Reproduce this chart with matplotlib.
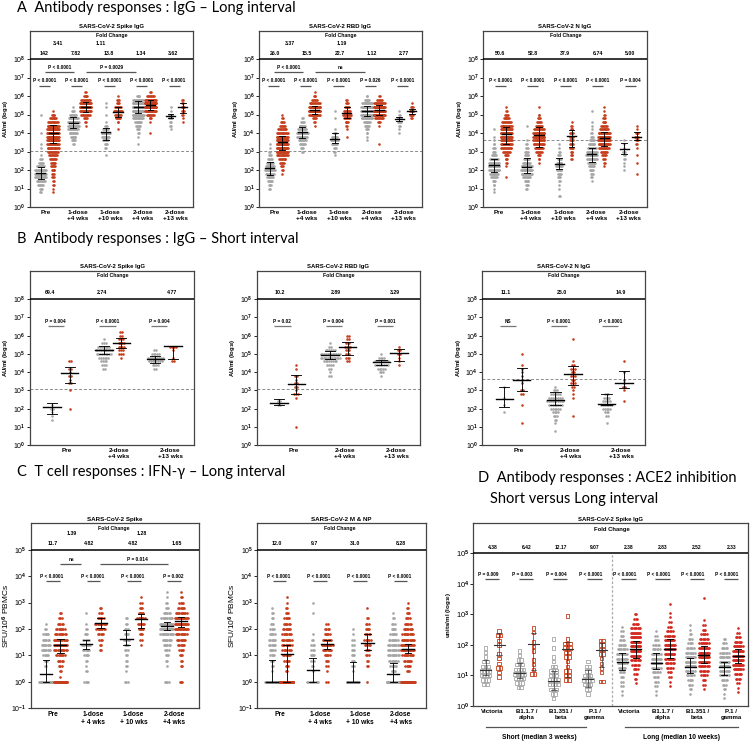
import matplotlib
matplotlib.use("Agg")
import matplotlib.pyplot as plt

plt.rcParams['font.family'] = ['Liberation Sans', 'DejaVu Sans']
plt.rcParams['mathtext.fontset'] = 'custom'
plt.rcParams['mathtext.rm'] = 'Liberation Sans'
plt.rcParams['mathtext.bf'] = 'Liberation Sans:bold'
plt.rcParams['mathtext.default'] = 'bf'

GRAY = '#a5a5a5'
RED = '#c53d1b'
RED_D = '#d2281e'

# ---------------- data (log10 values) ----------------
# each group: first row value, counts per row (row step per panel), median, IQR
# order: gray, red for each time point

# A  IgG long interval (row step 0.2)
A_LABELS = ['Pre', '1-dose\n+4 wks', '1-dose\n+10 wks', '2-dose\n+4 wks', '2-dose\n+13 wks']

A_SPIKE_LO = [0.8, 0.8, 3.4, 4.4, 2.8, 4.2, 3.4, 4.0, 4.2, 4.6]
A_SPIKE_COUNTS = [
    [2, 3, 6, 10, 14, 16, 14, 9, 5, 3, 1, 0, 1, 1, 0, 0, 1, 0, 0, 0, 0, 1],
    [1, 1, 2, 2, 3, 3, 4, 5, 6, 7, 9, 12, 15, 20, 24, 26, 26, 22, 18, 12, 8, 4, 1],
    [2, 4, 6, 9, 12, 14, 14, 11, 7, 3, 1],
    [1, 2, 4, 10, 18, 22, 18, 10, 5, 2],
    [1, 0, 2, 3, 6, 9, 10, 7, 3, 1, 0, 1, 0, 1, 1],
    [1, 0, 2, 5, 8, 9, 7, 4, 3, 1],
    [1, 0, 1, 2, 3, 5, 8, 12, 18, 22, 24, 20, 12, 4],
    [1, 0, 0, 1, 3, 8, 18, 28, 28, 18, 8, 2],
    [1, 2, 2, 5, 4, 1, 1],
    [1, 1, 2, 3, 3, 2, 2],
]
A_SPIKE_MED = [1.86, 3.98, 4.56, 5.39, 4.05, 5.15, 5.39, 5.51, 4.92, 5.39]
A_SPIKE_Q1 = [1.5, 3.48, 4.25, 5.15, 3.6, 4.88, 5.1, 5.24, 4.8, 5.1]
A_SPIKE_Q3 = [2.18, 4.43, 4.88, 5.69, 4.25, 5.39, 5.73, 5.78, 5.05, 5.6]
A_SPIKE_FOLD = ['142', '7.82', '13.8', '1.34', '3.62']
A_SPIKE_FOLD_BETWEEN = ['3.41', '1.11']
A_SPIKE_P = ['P < 0.0001'] * 5
A_SPIKE_P_BETWEEN = ['P < 0.0001', 'P = 0.0029']

A_RBD_LO = [1.0, 1.8, 3.0, 4.4, 2.8, 3.8, 3.6, 3.4, 4.0, 4.8]
A_RBD_COUNTS = [
    [2, 3, 5, 8, 10, 12, 10, 7, 5, 3, 2, 1, 1],
    [1, 2, 3, 5, 8, 14, 20, 24, 26, 24, 20, 14, 10, 6, 4, 2, 1],
    [2, 3, 6, 9, 12, 14, 10, 7, 4, 2],
    [1, 2, 4, 14, 26, 22, 12, 6, 3, 1],
    [1, 2, 3, 6, 9, 6, 3, 1, 0, 0, 1, 0, 1],
    [1, 0, 1, 2, 4, 7, 9, 7, 5, 3, 2],
    [1, 1, 2, 3, 5, 8, 14, 20, 22, 18, 12, 6, 2],
    [1, 0, 0, 0, 0, 1, 3, 10, 22, 30, 25, 14, 6, 2],
    [1, 1, 2, 4, 5, 2, 1],
    [2, 4, 5, 3, 1],
]
A_RBD_MED = [2.09, 3.53, 4.04, 5.24, 3.69, 5.06, 5.19, 5.24, 4.74, 5.19]
A_RBD_Q1 = [1.73, 3.08, 3.71, 5.03, 3.48, 4.79, 4.92, 4.95, 4.65, 5.05]
A_RBD_Q3 = [2.45, 3.86, 4.34, 5.46, 3.98, 5.42, 5.46, 5.5, 4.85, 5.3]
A_RBD_FOLD = ['26.0', '15.5', '22.7', '1.12', '2.77']
A_RBD_FOLD_BETWEEN = ['3.37', '1.19']
A_RBD_P = ['P < 0.0001', 'P < 0.0001', 'P < 0.0001', 'P = 0.026', 'P < 0.0001']
A_RBD_P_BETWEEN = ['P < 0.0001', 'ns']

A_N_LO = [0.8, 1.6, 1.0, 2.4, 0.6, 2.6, 1.4, 2.2, 2.0, 1.8]
A_N_COUNTS = [
    [1, 1, 2, 4, 7, 10, 13, 14, 12, 9, 6, 4, 3, 2, 1, 1, 0, 1],
    [1, 0, 0, 1, 2, 3, 5, 8, 12, 16, 18, 20, 20, 18, 14, 10, 7, 4, 2, 1],
    [2, 3, 5, 8, 12, 14, 12, 9, 7, 5, 4, 3, 2, 1, 0, 0, 0, 1],
    [1, 2, 4, 7, 10, 13, 15, 16, 15, 12, 8, 5, 3, 2, 0, 1],
    [2, 0, 1, 1, 2, 3, 4, 6, 7, 6, 4, 3, 2, 1, 1],
    [2, 3, 3, 4, 4, 5, 5, 4, 3, 2, 1],
    [1, 2, 3, 4, 6, 9, 12, 13, 12, 10, 7, 5, 3, 2, 1, 1, 1, 0, 0, 1],
    [1, 2, 3, 5, 8, 12, 18, 24, 22, 16, 10, 7, 4, 3, 2, 1, 1],
    [1, 1, 1, 2, 2, 3, 1, 1, 1],
    [1, 0, 0, 1, 0, 1, 0, 1, 2, 3, 4, 3, 1, 1],
]
A_N_MED = [2.27, 3.93, 2.14, 3.89, 2.32, 3.86, 2.85, 3.71, 3.12, 3.77]
A_N_Q1 = [1.91, 3.41, 1.86, 3.26, 2.04, 3.26, 2.45, 3.3, 2.85, 3.62]
A_N_Q3 = [2.58, 4.34, 2.65, 4.31, 2.65, 4.16, 3.21, 4.07, 3.48, 4.07]
A_N_FOLD = ['50.6', '52.8', '37.9', '6.74', '5.00']
A_N_P = ['P < 0.0001'] * 4 + ['P = 0.004']

A_CUTOFF = [3.04, 3.04, 3.62]

# B  IgG short interval (row step 0.2)
B_LABELS = ['Pre', '2-dose\n+4 wks', '2-dose\n+13 wks']

B_SPIKE_LO = [1.4, 2.0, 4.2, 4.8, 4.2, 4.6]
B_SPIKE_COUNTS = [
    [1, 1, 1, 2, 1],
    [1, 0, 0, 0, 0, 1, 0, 2, 1, 2, 1, 2, 0, 2],
    [2, 3, 4, 6, 9, 10, 7, 3, 1],
    [1, 3, 3, 4, 4, 3, 2, 2],
    [2, 4, 8, 9, 5, 2],
    [2, 1, 0, 1, 4],
]
B_SPIKE_MED = [2.08, 3.93, 5.21, 5.61, 4.7, 5.43]
B_SPIKE_Q1 = [1.71, 3.42, 4.97, 5.3, 4.52, 4.74]
B_SPIKE_Q3 = [2.33, 4.26, 5.43, 5.85, 4.88, 5.45]
B_SPIKE_FOLD = ['69.4', '2.74', '4.77']
B_SPIKE_P = ['P = 0.004', 'P < 0.0001', 'P = 0.004']

B_RBD_LO = [2.2, 1.0, 3.8, 4.6, 3.8, 4.4]
B_RBD_COUNTS = [
    [2, 2],
    [1, 0, 0, 0, 0, 0, 0, 0, 1, 3, 1, 2, 2, 1, 2, 0, 1, 1],
    [2, 1, 2, 4, 8, 14, 12, 6, 2, 1],
    [2, 3, 3, 3, 4, 3, 2, 2],
    [1, 3, 5, 8, 8, 4, 1],
    [1, 1, 1, 2, 2, 1],
]
B_RBD_MED = [2.33, 3.37, 4.92, 5.39, 4.55, 5.06]
B_RBD_Q1 = [2.2, 2.79, 4.74, 4.92, 4.4, 4.64]
B_RBD_Q3 = [2.55, 3.86, 5.15, 5.65, 4.66, 5.28]
B_RBD_FOLD = ['10.2', '2.89', '3.29']
B_RBD_P = ['P = 0.02', 'P = 0.004', 'P = 0.001']

B_N_LO = [1.8, 1.2, 0.8, 1.6, 1.2, 2.4]
B_N_COUNTS = [
    [1, 0, 1, 0, 1, 0, 0, 1],
    [1, 0, 0, 0, 0, 1, 0, 0, 2, 2, 0, 1, 1, 1, 1, 1, 1, 0, 0, 1],
    [1, 0, 1, 2, 3, 4, 6, 8, 10, 8, 6, 3, 1],
    [1, 0, 0, 0, 0, 1, 1, 1, 2, 3, 2, 3, 2, 3, 2, 1, 0, 0, 0, 0, 0, 1],
    [1, 0, 2, 3, 5, 7, 5, 4, 3],
    [1, 0, 0, 1, 2, 1, 1, 0, 1, 0, 0, 1],
]
B_N_MED = [2.55, 3.59, 2.5, 3.9, 2.24, 3.42]
B_N_Q1 = [2.09, 2.95, 2.2, 3.32, 2.19, 3.13]
B_N_Q3 = [3.19, 4.23, 2.91, 4.34, 2.82, 4.08]
B_N_FOLD = ['11.1', '25.0', '14.9']
B_N_P = ['NS', 'P < 0.0001', 'P < 0.0001']

B_CUTOFF = [3.08, 3.06, 3.64]

# C  T cell IFN-g (row step 0.2)
C_LABELS = ['Pre', '1-dose\n+ 4 wks', '1-dose\n+ 10 wks', '2-dose\n+4 wks']

C_SPIKE_LO = [0.0, 0.0, 0.0, 1.2, 0.0, 1.4, 0.0, 0.0]
C_SPIKE_COUNTS = [
    [20, 0, 0, 2, 3, 5, 8, 8, 6, 5, 2, 1],
    [30, 1, 2, 3, 5, 8, 12, 14, 13, 10, 8, 5, 3, 2],
    [4, 0, 2, 1, 2, 4, 6, 8, 6, 3, 2, 1, 0, 1],
    [2, 2, 3, 5, 8, 10, 6, 3, 2],
    [3, 0, 1, 2, 2, 2, 3, 4, 5, 4, 3, 2, 2],
    [1, 2, 3, 5, 6, 7, 5, 3, 2, 1],
    [4, 0, 0, 1, 2, 3, 4, 6, 8, 12, 18, 16, 10, 6, 3, 2, 1, 1],
    [3, 0, 0, 2, 2, 3, 4, 6, 8, 10, 14, 18, 16, 10, 6, 4, 2, 1],
]
C_SPIKE_MED = [0.3, 1.39, 1.43, 2.21, 1.64, 2.37, 2.11, 2.3]
C_SPIKE_Q1 = [0.0, 1.1, 1.23, 2.02, 1.39, 2.02, 1.96, 2.08]
C_SPIKE_Q3 = [0.82, 1.64, 1.6, 2.4, 1.96, 2.58, 2.27, 2.46]
C_SPIKE_FOLD = ['11.7', '4.82', '4.82', '1.65']
C_SPIKE_FOLD_BETWEEN = ['1.39', '1.28']
C_SPIKE_P = ['P < 0.0001', 'P < 0.0001', 'P < 0.0001', 'P = 0.002']
C_SPIKE_P_BETWEEN = ['ns', 'P = 0.014']

C_MNP_LO = [0.0] * 8
C_MNP_COUNTS = [
    [40, 0, 1, 2, 3, 4, 5, 6, 6, 5, 4, 3, 2, 2, 1],
    [60, 0, 2, 3, 5, 7, 8, 9, 9, 8, 7, 6, 5, 3, 2, 1, 1],
    [10, 0, 1, 2, 3, 4, 3, 3, 2, 1, 0, 0, 0, 1, 0, 1],
    [2, 0, 1, 2, 3, 5, 8, 10, 8, 5, 4, 2],
    [15, 0, 1, 2, 3, 3, 3, 2, 2, 1, 1],
    [1, 0, 0, 2, 2, 3, 4, 5, 6, 5, 4, 3, 2, 0, 1],
    [40, 0, 4, 6, 8, 10, 10, 10, 8, 6, 4, 3, 2, 1],
    [40, 0, 3, 5, 7, 10, 14, 14, 12, 10, 8, 6, 4, 3, 2, 1],
]
C_MNP_MED = [0.0, 1.04, 0.45, 1.43, 0.0, 1.48, 0.28, 1.25]
C_MNP_Q1 = [0.0, 0.0, 0.0, 1.23, 0.0, 1.2, 0.0, 1.08]
C_MNP_Q3 = [0.82, 1.38, 0.89, 1.6, 0.76, 1.83, 0.7, 1.42]
C_MNP_FOLD = ['12.0', '9.7', '31.0', '8.28']
C_MNP_P = ['P < 0.0001'] * 4

# D  ACE2 inhibition (row step 0.15); first 4 pairs short interval, last 4 long
D_LABELS = ['Victoria', 'B1.1.7 /\nalpha', 'B1.351 /\nbeta', 'P.1 /\ngamma'] * 2
D_LO = [0.7, 0.95, 0.6, 1.05, 0.25, 0.85, 0.4, 0.8,
        0.35, 0.75, 0.35, 0.65, 0.4, 0.55, 0.25, 0.45]
D_COUNTS = [
    [2, 3, 4, 4, 3, 2, 1, 1, 1],
    [1, 1, 2, 1, 1, 1, 0, 1, 1, 2, 1],
    [2, 3, 4, 5, 4, 3, 2, 1, 1],
    [2, 1, 1, 1, 0, 1, 1, 1, 0, 1, 1],
    [1, 2, 3, 4, 4, 3, 3, 2, 1, 1, 0, 1, 0, 1],
    [2, 2, 2, 1, 1, 2, 2, 3, 3, 1, 0, 0, 0, 0, 1],
    [1, 2, 3, 4, 3, 2, 2, 1],
    [2, 0, 1, 1, 1, 1, 2, 2, 2, 2],
    [1, 1, 2, 2, 3, 4, 6, 8, 10, 10, 8, 6, 4, 3, 2, 1],
    [1, 2, 3, 4, 6, 8, 10, 12, 14, 14, 12, 10, 8, 5, 3, 2],
    [1, 1, 2, 3, 4, 6, 8, 10, 10, 8, 6, 5, 3, 2, 1],
    [1, 1, 2, 3, 5, 7, 9, 11, 12, 12, 10, 8, 5, 3, 2, 1, 1, 0, 1],
    [1, 2, 3, 4, 6, 8, 10, 12, 10, 8, 6, 4, 3, 2, 1, 1],
    [1, 2, 3, 5, 7, 10, 12, 14, 14, 12, 9, 7, 5, 3, 2, 1, 0, 0, 0, 0, 1],
    [1, 1, 2, 3, 5, 7, 9, 11, 11, 9, 7, 5, 3, 2],
    [1, 1, 2, 4, 6, 9, 12, 14, 14, 12, 9, 6, 4, 2, 1],
]
D_MED = [1.18, 2.0, 1.07, 2.03, 0.83, 1.86, 0.87, 1.84,
         1.45, 1.86, 1.4, 1.86, 1.29, 1.67, 1.27, 1.65]
D_Q1 = [1.02, 1.67, 0.91, 1.18, 0.52, 0.96, 0.63, 1.29,
        1.18, 1.56, 1.2, 1.56, 1.07, 1.42, 1.02, 1.42]
D_Q3 = [1.51, 2.38, 1.4, 2.38, 1.13, 2.11, 1.18, 2.05,
        1.73, 2.14, 1.73, 2.19, 1.56, 1.95, 1.45, 1.86]
D_FOLD = ['4.38', '6.42', '12.17', '9.07', '2.38', '2.83', '2.52', '2.33']
D_P = ['P = 0.009', 'P = 0.003', 'P = 0.004'] + ['P < 0.0001'] * 5


# ---------------- helpers ----------------
def rows(ax, x, lo, counts, step, dx, maxw, **kw):
    xs, ys = [], []
    for i, n in enumerate(counts):
        if n == 0:
            continue
        sp = min(dx, maxw / n)
        for j in range(n):
            xs.append(x + (j - (n - 1) / 2) * sp)
            ys.append(lo + i * step)
    ax.scatter(xs, ys, zorder=3, clip_on=False, **kw)


def iqr(ax, x, med, q1, q3, hwm, hwc, color='k', lw=0.8):
    ax.plot([x - hwm, x + hwm], [med, med], color=color, lw=lw + 0.2, zorder=5)
    ax.plot([x, x], [q1, q3], color=color, lw=lw * 0.8, zorder=5)
    for q in (q1, q3):
        ax.plot([x - hwc, x + hwc], [q, q], color=color, lw=lw * 0.8, zorder=5)


def txt(ax, x, y, s, size=3.5):
    ax.text(x, y, s, ha='center', va='center', fontsize=size, fontweight='bold')


def bar(ax, x0, x1, y, color='#555555'):
    ax.plot([x0, x1], [y, y], color=color, lw=0.9, solid_capstyle='butt')


def frame(ax, xlim, ylim, ytop, ticks, ylab, tsize, lsize, labelsize, lpad=2):
    ax.set_xlim(*xlim)
    ax.set_ylim(*ylim)
    ax.set_yticks(ticks)
    ax.set_yticklabels(['10$^{%d}$' % k for k in ticks])
    for sp in ax.spines.values():
        sp.set_color('#444444')
        sp.set_linewidth(0.9)
    ax.axhline(ytop, color='k', lw=1.1, zorder=4)
    ax.tick_params(axis='y', length=2, width=0.6, labelsize=tsize, pad=1)
    ax.tick_params(axis='x', length=0, labelsize=labelsize, pad=2)
    for lab in ax.get_xticklabels():
        lab.set_fontweight('bold')
    ax.set_ylabel(ylab, fontsize=lsize, fontweight='bold', labelpad=lpad)


def pairs(ax, centers, off, lo, counts, step, med, q1, q3, dx, maxw, hwm, hwc, s):
    for k in range(len(lo)):
        c = centers[k // 2] + (off if k % 2 else -off)
        col = RED if k % 2 else GRAY
        rows(ax, c, lo[k], counts[k], step, dx, maxw, s=s, color=col, lw=0)
        iqr(ax, c, med[k], q1[k], q3[k], hwm, hwc)


fig = plt.figure(figsize=(7.5, 7.41), dpi=100)

fig.text(0.0227, 0.9888, 'A  Antibody responses : IgG \u2013 Long interval',
         fontsize=10.5, family='Lato', va='center')
fig.text(0.0227, 0.6775, 'B  Antibody responses : IgG \u2013 Short interval',
         fontsize=10.5, family='Lato', va='center')
fig.text(0.0227, 0.3634, 'C  T cell responses : IFN-\u03b3 \u2013 Long interval',
         fontsize=10.5, family='Lato', va='center')
fig.text(0.637, 0.3545, 'D  Antibody responses : ACE2 inhibition',
         fontsize=10.5, family='Lato', va='center')
fig.text(0.653, 0.3262, 'Short versus Long interval',
         fontsize=10.5, family='Lato', va='center')

# ---------------- A ----------------
a_panels = [
    ([0.040, 0.7206, 0.2173, 0.2379], 'SARS-CoV-2 Spike IgG', A_SPIKE_LO, A_SPIKE_COUNTS,
     A_SPIKE_MED, A_SPIKE_Q1, A_SPIKE_Q3, A_SPIKE_FOLD, A_SPIKE_P, -0.1,
     A_SPIKE_FOLD_BETWEEN, [0.35, 1.65], A_SPIKE_P_BETWEEN),
    ([0.3457, 0.7206, 0.2165, 0.2379], 'SARS-CoV-2 RBD IgG', A_RBD_LO, A_RBD_COUNTS,
     A_RBD_MED, A_RBD_Q1, A_RBD_Q3, A_RBD_FOLD, A_RBD_P, -0.04,
     A_RBD_FOLD_BETWEEN, [0.44, 2.04], A_RBD_P_BETWEEN),
    ([0.6444, 0.7206, 0.2179, 0.2379], 'SARS-CoV-2 N IgG', A_N_LO, A_N_COUNTS,
     A_N_MED, A_N_Q1, A_N_Q3, A_N_FOLD, A_N_P, 0.0, [], [], []),
]
for i, (rect, name, lo, cnt, med, q1, q3, fold, pv, fo, fb, fbx, pb) in enumerate(a_panels):
    ax = fig.add_axes(rect)
    cen = list(range(5))
    pairs(ax, cen, 0.19, lo, cnt, 0.2, med, q1, q3, 0.028, 0.36, 0.14, 0.09, 3.4)
    ax.axhline(A_CUTOFF[i], color='#8a8a8a', lw=0.7, ls=(0, (3, 2)), zorder=1)
    ax.set_xticks([c - 0.05 for c in cen])
    ax.set_xticklabels(A_LABELS)
    frame(ax, (-0.52, 4.5), (0, 9.53), 8, range(0, 9), 'AU/ml (log$_{10}$)', 5, 4.3, 4.6)
    ax.set_title(name, fontsize=4.3, fontweight='bold', pad=2)
    txt(ax, 2.0, 9.30, 'Fold Change', 3.7)
    for c, f in zip(cen, fold):
        txt(ax, c + fo, 8.31, f, 3.8)
    for x, f in zip(fbx, fb):
        txt(ax, x, 8.85, f, 3.8)
    pc = 0.0 if i == 2 else -0.08
    for c, p in zip(cen, pv):
        txt(ax, c + pc, 6.83, p, 3.4)
        bar(ax, c + pc - 0.17, c + pc + 0.17, 6.54)
    for (x0, x1), tx, p in zip([(-0.06, 0.83), (1.2, 2.76)], [0.38, 1.98], pb):
        txt(ax, tx, 7.53, p, 3.4)
        bar(ax, x0, x1, 7.31)

# ---------------- B ----------------
b_panels = [
    ([0.040, 0.399, 0.2187, 0.2356], 'SARS-CoV-2 Spike IgG', B_SPIKE_LO, B_SPIKE_COUNTS,
     B_SPIKE_MED, B_SPIKE_Q1, B_SPIKE_Q3, B_SPIKE_FOLD, B_SPIKE_P, [-0.21, 0.79, 2.15]),
    ([0.3423, 0.399, 0.2177, 0.2356], 'SARS-CoV-2 RBD IgG', B_RBD_LO, B_RBD_COUNTS,
     B_RBD_MED, B_RBD_Q1, B_RBD_Q3, B_RBD_FOLD, B_RBD_P, [-0.15, 0.95, 2.1]),
    ([0.643, 0.399, 0.217, 0.2356], 'SARS-CoV-2 N IgG', B_N_LO, B_N_COUNTS,
     B_N_MED, B_N_Q1, B_N_Q3, B_N_FOLD, B_N_P, [-0.15, 0.95, 2.1]),
]
for i, (rect, name, lo, cnt, med, q1, q3, fold, pv, fx) in enumerate(b_panels):
    ax = fig.add_axes(rect)
    cen = [0, 1, 2]
    pairs(ax, cen, 0.17, lo, cnt, 0.2, med, q1, q3, 0.035, 0.4, 0.17, 0.1, 3.4)
    ax.axhline(B_CUTOFF[i], color='#8a8a8a', lw=0.7, ls=(0, (3, 2)), zorder=1)
    ax.set_xticks([c + 0.12 for c in cen])
    ax.set_xticklabels(B_LABELS)
    frame(ax, (-0.6, 2.58), (0, 9.55), 8, range(0, 9), 'AU/ml (log$_{10}$)', 5, 4.3, 4.6)
    ax.set_title(name, fontsize=4.3, fontweight='bold', pad=2)
    txt(ax, 1.0, 9.31, 'Fold Change', 3.7)
    for x, f in zip(fx, fold):
        txt(ax, x, 8.37, f, 3.8)
    for c, p in zip(cen, pv):
        txt(ax, c - 0.1, 6.8, p, 3.4)
        bar(ax, c - 0.26, c + 0.06, 6.54, '#777777')

# ---------------- C ----------------
c_panels = [
    ([0.0413, 0.0441, 0.224, 0.2497], 'SARS-CoV-2 Spike', C_SPIKE_LO, C_SPIKE_COUNTS,
     C_SPIKE_MED, C_SPIKE_Q1, C_SPIKE_Q3, C_SPIKE_FOLD, C_SPIKE_P,
     [0.0, 0.89, 1.99, 3.06], C_SPIKE_FOLD_BETWEEN, C_SPIKE_P_BETWEEN),
    ([0.343, 0.0441, 0.2245, 0.2497], 'SARS-CoV-2 M & NP', C_MNP_LO, C_MNP_COUNTS,
     C_MNP_MED, C_MNP_Q1, C_MNP_Q3, C_MNP_FOLD, C_MNP_P,
     [-0.06, 0.88, 1.88, 3.0], [], []),
]
for i, (rect, name, lo, cnt, med, q1, q3, fold, pv, fx, fb, pb) in enumerate(c_panels):
    ax = fig.add_axes(rect)
    cen = [0, 1, 2, 3]
    pairs(ax, cen, 0.18, lo, cnt, 0.2, med, q1, q3, 0.03, 0.34, 0.15, 0.08, 3.6)
    ax.set_xticks(cen)
    ax.set_xticklabels(C_LABELS)
    frame(ax, (-0.55, 3.62), (-1, 6.0), 5, range(-1, 6), 'SFU/10$^{6}$ PBMCs', 5.0, 6.0, 4.8)
    ax.yaxis.label.set_fontweight('normal')
    ax.yaxis.label.set_va('center')
    ax.yaxis.set_label_coords(-0.148, 0.5)
    ax.set_title(name, fontsize=4.5, fontweight='bold', pad=2)
    txt(ax, 1.5, 5.79, 'Fold Change', 3.7)
    for x, f in zip(fx, fold):
        txt(ax, x, 5.23, f, 3.8)
    for x, f in zip([0.46, 2.19], fb):
        txt(ax, x, 5.6, f, 3.8)
    for c, p in zip(cen, pv):
        txt(ax, c - 0.03, 4.0, p, 3.4)
        bar(ax, c - 0.17, c + 0.17, 3.8)
    for (x0, x1), tx, p in zip([(0.17, 0.7), (1.16, 2.85)], [0.45, 2.1], pb):
        txt(ax, tx, 4.62, p, 3.4)
        bar(ax, x0, x1, 4.45)

# ---------------- D ----------------
ax = fig.add_axes([0.631, 0.0472, 0.3663, 0.2466])
cen = list(range(8))
for k in range(16):
    c = cen[k // 2] + (0.2 if k % 2 else -0.2)
    short = k < 8
    if short:
        col = RED if k % 2 else GRAY
        rows(ax, c, D_LO[k], D_COUNTS[k], 0.15, 0.08, 0.34, s=6, marker='s',
             facecolors='none', edgecolors=col, linewidths=0.6)
        iqr(ax, c, D_MED[k], D_Q1[k], D_Q3[k], 0.16, 0.08, color='#333333', lw=0.6)
    else:
        col = RED_D if k % 2 else GRAY
        rows(ax, c, D_LO[k], D_COUNTS[k], 0.15, 0.04, 0.3, s=3.6, color=col, lw=0)
        iqr(ax, c, D_MED[k], D_Q1[k], D_Q3[k], 0.16, 0.09)
ax.plot([3.5, 3.5], [0, 5], color='#aaaaaa', lw=0.9, ls=(0, (2, 1.5)), zorder=1)
ax.set_xticks(cen)
ax.set_xticklabels(D_LABELS)
frame(ax, (-0.56, 7.49), (0, 5.98), 5, range(0, 6), 'units/ml (log$_{10}$)', 5.5, 4.5, 4.4)
ax.set_title('SARS-CoV-2 Spike IgG', fontsize=4.3, fontweight='bold', pad=2)
txt(ax, 3.5, 5.79, 'Fold Change', 4.2)
for c, f in zip(cen, D_FOLD):
    txt(ax, c, 5.2, f, 3.6)
for c, p in zip(cen, D_P):
    txt(ax, c - 0.12, 4.29, p, 3.4)
    bar(ax, c - 0.22, c + 0.2, 4.15)
tr = ax.get_xaxis_transform()
ax.plot([-0.2, 2.75], [-0.115, -0.115], color='#555555', lw=0.9, transform=tr, clip_on=False)
ax.plot([3.9, 7.2], [-0.115, -0.115], color='#555555', lw=0.9, transform=tr, clip_on=False)
ax.text(1.39, -0.171, 'Short (median 3 weeks)', transform=tr, ha='center', va='center',
        fontsize=4.8, fontweight='bold')
ax.text(5.55, -0.171, 'Long (median 10 weeks)', transform=tr, ha='center', va='center',
        fontsize=4.8, fontweight='bold')

fig.savefig('out.png', dpi=100)
